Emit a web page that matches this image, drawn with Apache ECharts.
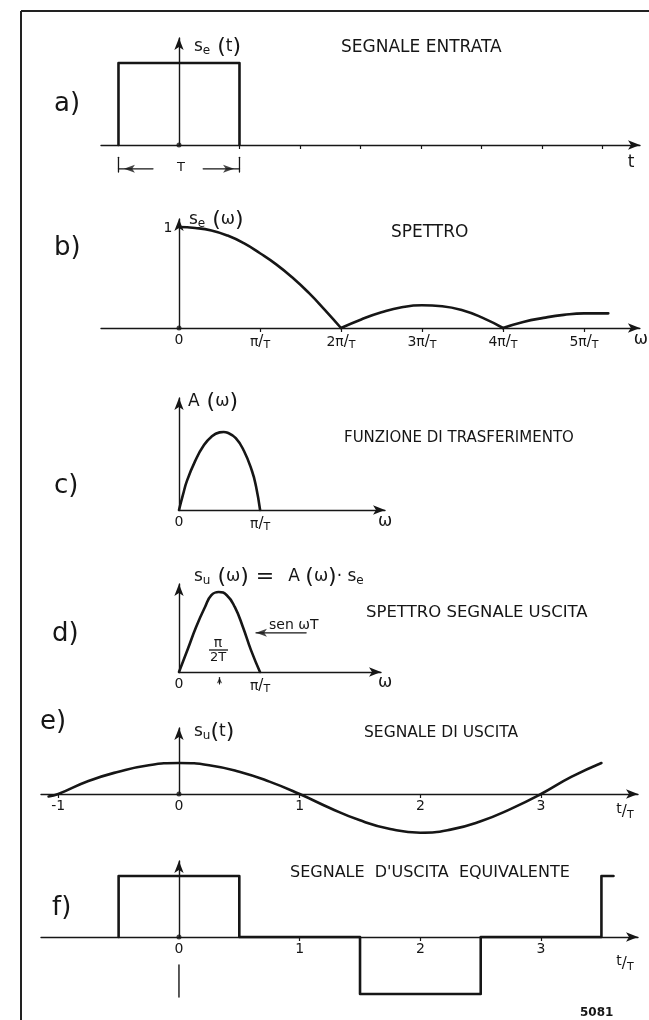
<!DOCTYPE html>
<html><head><meta charset="utf-8">
<script src="https://cdn.jsdelivr.net/npm/echarts@6/dist/echarts.min.js"></script>
<style>html,body{margin:0;padding:0;background:#fff}#c{width:649px;height:1020px}</style>
</head><body><div id="c"></div>
<script>
// ---------- DATA ----------
// a) input pulse s_e(t), t in units of T/2
const pulseT = [-1, -1, 1, 1];
const pulseV = [0, 1, 1, 0];
const pulseTicks = [1, 2, 3, 4, 5, 6, 7];

// b) spectrum |s_e(ω)|, ω in units of π/T
const specW = [0, 0.2, 0.4, 0.6, 0.8, 1.0, 1.2, 1.4, 1.6, 1.8, 2,
               2.25, 2.5, 2.75, 3, 3.25, 3.5, 3.75, 4,
               4.25, 4.5, 4.75, 5, 5.3];
const specV = [1, 0.99, 0.965, 0.915, 0.84, 0.74, 0.63, 0.50, 0.35, 0.18, 0,
               0.085, 0.155, 0.205, 0.225, 0.215, 0.175, 0.10, 0,
               0.06, 0.10, 0.13, 0.145, 0.145];
const specTicks = [0, 1, 2, 3, 4, 5];
const specTickLabels = ['0', '{p|π}{s|/}{b|T}', '{p|2π}{s|/}{b|T}', '{p|3π}{s|/}{b|T}', '{p|4π}{s|/}{b|T}', '{p|5π}{s|/}{b|T}'];

// c) transfer function A(ω)
const transW = [0, 0.05, 0.1, 0.2, 0.3, 0.4, 0.5, 0.55, 0.6, 0.7, 0.8, 0.9, 0.95, 1.0];
const transV = [0, 0.2, 0.38, 0.63, 0.82, 0.94, 0.995, 1.0, 0.99, 0.92, 0.76, 0.50, 0.30, 0];

// d) output spectrum s_u(ω)
const outSpecW = [0, 0.11, 0.21, 0.32, 0.40, 0.49, 0.59, 0.69, 0.79, 0.89, 1.0];
const outSpecV = [0, 0.29, 0.56, 0.81, 0.96, 1.0, 0.96, 0.81, 0.56, 0.27, 0];
const smallTicks = [0, 1];
const smallTickLabels = ['0', '{p|π}{s|/}{b|T}'];

// e) output signal s_u(t), t in units of T
const outT = [-1.08, -1, -0.75, -0.5, -0.25, 0, 0.25, 0.5, 0.75, 1, 1.25, 1.5, 1.75, 2, 2.25, 2.5, 2.75, 3, 3.25, 3.5];
const outV = [-0.08, 0, 0.42, 0.72, 0.93, 1, 0.93, 0.72, 0.40, 0, -0.45, -0.85, -1.13, -1.25, -1.15, -0.88, -0.48, 0, 0.55, 1.0];
const timeTicks = [-1, 0, 1, 2, 3];
const timeTickLabels = ['-1', '0', '1', '2', '3'];

// f) equivalent output signal
const eqT = [-0.5, -0.5, 0.5, 0.5, 1.5, 1.5, 2.5, 2.5, 3.5, 3.5, 3.6];
const eqV = [0, 1, 1, 0, 0, -0.934, -0.934, 0, 0, 1, 1];
const eqTicks = [0, 1, 2, 3];
const eqTickLabels = ['0', '1', '2', '3'];

// ---------- CHART ----------
const INK = '#161616';
const FONT = 'DejaVu Sans, Liberation Sans, sans-serif';
const pairs = (xs, ys) => xs.map((x, i) => [x, ys[i]]);
function lobes(xs, ys) {
  const out = []; let cur = [];
  xs.forEach((x, i) => {
    cur.push([x, ys[i]]);
    if (ys[i] === 0 && cur.length > 1) { out.push(cur); cur = [[x, ys[i]]]; }
  });
  if (cur.length > 1) out.push(cur);
  return out;
}
const fracRich = {
  p: { fontSize: 14, fontFamily: FONT, color: INK },
  s: { fontSize: 15, fontFamily: FONT, color: INK },
  b: { fontSize: 11, fontFamily: FONT, color: INK, verticalAlign: 'bottom', padding: [7, 0, 0, 0] }
};
const subRich = {
  m: { fontSize: 17, fontFamily: FONT, color: INK },
  sub: { fontSize: 12, fontFamily: FONT, color: INK, padding: [8, 0, 0, 0] },
  q: { fontSize: 22, fontFamily: FONT, color: INK }
};
const tOverT = '{a|t}{s|/}{b|T}';
const tRich = {
  a: { fontSize: 14, fontFamily: FONT, color: INK, padding: [0, 0, 6, 0] },
  s: { fontSize: 15, fontFamily: FONT, color: INK },
  b: { fontSize: 11, fontFamily: FONT, color: INK, padding: [7, 0, 0, 0] }
};

const panels = [
  { grid: { left: 101, right: 9, top: 38, height: 107 }, x: [-1.289, 7.62], yMax: 1.305,
    ticks: pulseTicks, labels: null, xName: 't', xNameGap: -9, xNamePad: 9,
    yName: '{m|s}{sub|e}{q| (}{m|t}{q|)}', yNameGap: -9, namePad: 15 },
  { grid: { left: 101, right: 9, top: 219, height: 109 }, x: [-0.963, 5.69], yMax: 1.079,
    ticks: specTicks.slice(1), labelValues: specTicks, labels: specTickLabels, xName: 'ω', xNameGap: 1, xNamePad: 3,
    yName: '{m|s}{sub|e}{q| (}{m|ω}{q|)}', yNameGap: -1, namePad: 10 },
  { grid: { left: 179, right: 264, top: 398, height: 112 }, x: [0, 2.54], yMax: 1.436,
    ticks: [], labelValues: smallTicks, labels: smallTickLabels, xName: 'ω', xNameGap: 0, xNamePad: 3,
    yName: '{m|A}{q| (}{m|ω}{q|)}', yNameGap: -4, namePad: 9 },
  { grid: { left: 179, right: 268, top: 584, height: 88 }, x: [0, 2.494], yMax: 1.1,
    ticks: [], labelValues: smallTicks, labels: smallTickLabels, xName: 'ω', xNameGap: 4, xNamePad: 2,
    yName: '{m|s}{sub|u}{q| (}{m|ω}{q|) =  }{m|A }{q|(}{m|ω}{q|)}{m|· s}{sub|e}', yNameGap: 7, namePad: 15 },
  { grid: { left: 41, right: 11, top: 728, height: 66 }, x: [-1.143, 3.803], yMax: 2.13,
    ticks: [-1, 1, 2, 3], labelValues: timeTicks, labels: timeTickLabels, xName: tOverT, xNameGap: -13, xNamePad: 8,
    yName: '{m|s}{sub|u}{q|(}{m|t}{q|)}', yNameGap: -4, namePad: 15 },
  { grid: { left: 41, right: 11, top: 861, height: 76 }, x: [-1.143, 3.803], yMax: 1.246,
    ticks: [1, 2, 3], labelValues: eqTicks, labels: eqTickLabels, xName: tOverT, xNameGap: -13, xNamePad: 17,
    yName: '', yNameGap: 0, namePad: 0 }
];

const axisLineStyle = { color: INK, width: 1.4 };
const grids = [], xAxes = [], yAxes = [], series = [];
panels.forEach((p, i) => {
  grids.push(p.grid);
  xAxes.push({
    type: 'value', gridIndex: i, min: p.x[0], max: p.x[1],
    axisLine: { onZero: true, lineStyle: axisLineStyle, symbol: ['none', 'arrow'], symbolSize: [7, 12] },
    splitLine: { show: false },
    axisTick: { show: p.ticks.length > 0, customValues: p.ticks, length: 4, lineStyle: { color: INK, width: 1.2 } },
    axisLabel: {
      show: !!p.labels, customValues: p.labelValues || [], margin: 5, color: INK, fontFamily: FONT, fontSize: 14,
      rich: fracRich,
      formatter: v => { const k = (p.labelValues || []).indexOf(v); return k >= 0 ? p.labels[k] : ''; }
    },
    name: p.xName, nameLocation: 'end', nameGap: p.xNameGap,
    nameTextStyle: { color: INK, fontFamily: FONT, fontSize: 17, align: 'center', verticalAlign: 'top', padding: [p.xNamePad, 0, 0, 0], rich: tRich }
  });
  yAxes.push({
    type: 'value', gridIndex: i, min: 0, max: p.yMax,
    axisLine: { show: true, onZero: true, lineStyle: axisLineStyle, symbol: ['none', 'arrow'], symbolSize: [7, 12] },
    axisTick: { show: false }, splitLine: { show: false }, axisLabel: { show: false },
    name: p.yName, nameLocation: 'end', nameGap: p.yNameGap,
    nameTextStyle: { align: 'left', verticalAlign: 'middle', padding: [0, 0, 0, p.namePad], rich: subRich }
  });
});

function curve(i, data, smooth, w) {
  return { type: 'line', xAxisIndex: i, yAxisIndex: i, data, smooth: smooth,
    symbol: 'none', clip: false, silent: true,
    lineStyle: { color: INK, width: w || 2.6, cap: 'round', join: 'round' }, z: 3 };
}
function dot(i) {
  return { type: 'scatter', xAxisIndex: i, yAxisIndex: i, data: [[0, 0]], symbolSize: 5, clip: false, silent: true,
    itemStyle: { color: INK }, z: 4 };
}
function arrowHead(i, pt, rot, size) {
  return { type: 'scatter', xAxisIndex: i, yAxisIndex: i, data: [pt], symbol: 'arrow', symbolRotate: rot,
    symbolSize: size || [6, 10], clip: false, silent: true, itemStyle: { color: INK }, z: 4 };
}

// a)
series.push(curve(0, pairs(pulseT, pulseV), false));
series.push(dot(0));
// dimension "T" = pulse width
series.push(curve(0, [[pulseT[0], -0.15], [pulseT[0], -0.33]], false, 1.3));
series.push(curve(0, [[pulseT[2], -0.15], [pulseT[2], -0.33]], false, 1.3));
series.push(curve(0, [[pulseT[0], -0.29], [-0.43, -0.29]], false, 1.3));
series.push(curve(0, [[0.4, -0.29], [pulseT[2], -0.29]], false, 1.3));
series.push(arrowHead(0, [pulseT[0] + 0.09, -0.29], 90, [6, 11]));
series.push(arrowHead(0, [pulseT[2] - 0.09, -0.29], -90, [6, 11]));
// b)
lobes(specW, specV).forEach(l => series.push(curve(1, l, 0.5)));
series.push(dot(1));
// c)
series.push(curve(2, pairs(transW, transV), 0.5));
// d)
series.push(curve(3, pairs(outSpecW, outSpecV), 0.5));
series.push(curve(3, [[1.57, 0.49], [0.95, 0.49]], false, 1.2));
series.push(arrowHead(3, [0.95, 0.49], 90, [6, 11]));
series.push(curve(3, [[0.5, -0.15], [0.5, -0.07]], false, 1.2));
series.push(arrowHead(3, [0.5, -0.07], 0, [4, 6]));
// e)
series.push(curve(4, pairs(outT, outV), 0.5));
series.push(dot(4));
// f)
series.push(curve(5, pairs(eqT, eqV), false));
series.push(curve(5, [[0, -0.459], [0, -0.984]], false, 1.4));
series.push(dot(5));

const txt = (text, x, y, size, extra) => ({ type: 'text', x, y, silent: true,
  style: Object.assign({ text, fill: INK, fontFamily: FONT, fontSize: size, verticalAlign: 'middle', align: 'left' }, extra || {}) });

const graphic = [
  { type: 'line', silent: true, shape: { x1: 21, y1: 11, x2: 21, y2: 1020 }, style: { stroke: '#222', lineWidth: 2 } },
  { type: 'line', silent: true, shape: { x1: 21, y1: 11, x2: 649, y2: 11 }, style: { stroke: '#222', lineWidth: 2 } },
  txt('SEGNALE ENTRATA', 341, 48, 17),
  txt('SPETTRO', 391, 233, 17),
  txt('FUNZIONE DI TRASFERIMENTO', 344, 438, 15),
  txt('SPETTRO SEGNALE USCITA', 366, 613, 16.5),
  txt('SEGNALE DI USCITA', 364, 733, 15.5),
  txt("SEGNALE  D'USCITA  EQUIVALENTE", 290, 873, 16),
  txt('1', 168, 228, 14, { align: 'center' }),
  txt('a)', 54, 104, 26),
  txt('b)', 54, 248, 26),
  txt('c)', 54, 486, 26),
  txt('d)', 52, 634, 26),
  txt('e)', 40, 722, 26),
  txt('f)', 52, 908, 26),
  txt('T', 181, 168, 13, { align: 'center' }),
  txt('sen ωT', 269, 625, 14),
  txt('π', 218, 643, 14, { align: 'center' }),
  { type: 'line', silent: true, shape: { x1: 209, y1: 650, x2: 228, y2: 650 }, style: { stroke: INK, lineWidth: 1.3 } },
  txt('2T', 218, 658, 13, { align: 'center' }),
  txt('5081', 580, 1013, 12, { fontWeight: 'bold' })
];

const chart = echarts.init(document.getElementById('c'));
chart.setOption({
  animation: false,
  backgroundColor: '#ffffff',
  grid: grids, xAxis: xAxes, yAxis: yAxes, series, graphic
});
</script></body></html>
